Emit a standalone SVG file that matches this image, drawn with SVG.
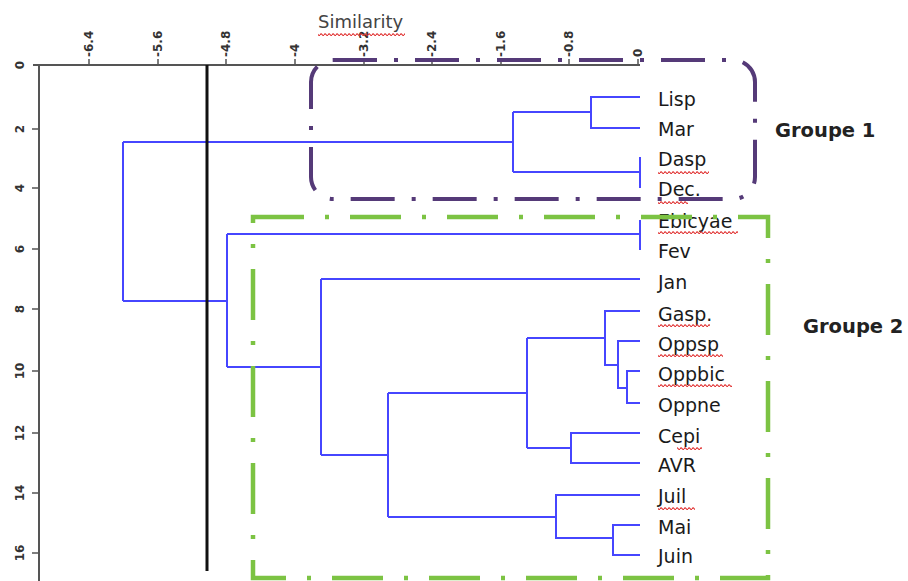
<svg xmlns="http://www.w3.org/2000/svg" width="908" height="581" viewBox="0 0 908 581">
<style>
.axis{stroke:#555;stroke-width:2;fill:none}
.tick{stroke:#555;stroke-width:1.5}
.tl{font-family:"DejaVu Sans",sans-serif;font-size:12px;font-weight:bold;fill:#333}
.leaf{font-family:"DejaVu Sans",sans-serif;font-size:19px;fill:#1a1a1a}
.grp{font-family:"DejaVu Sans",sans-serif;font-size:19.5px;font-weight:bold;fill:#222}
.dendro{stroke:#4646ff;stroke-width:2;fill:none}
.cut{stroke:#111;stroke-width:3}
.box1{fill:none;stroke:#553a78;stroke-width:4;stroke-dasharray:44 17 4 17}
.box2{fill:none;stroke:#7cc343;stroke-width:4.5;stroke-dasharray:51 21 4 21}
.wavy{fill:url(#wavy)}
</style>
<defs>
<pattern id="wavy" patternUnits="userSpaceOnUse" width="4" height="3">
<path d="M0 2 Q1 0 2 1.5 T4 2" fill="none" stroke="#e03030" stroke-width="1.2"/>
</pattern>
</defs>
<rect width="908" height="581" fill="#fff"/>

<g id="axes">
<path class="axis" d="M33 65 H640 M39 65 V581"/>
<g class="tick">
<path d="M89 59 V65 M158 59 V65 M226 59 V65 M295 59 V65 M364 59 V65 M432 59 V65 M501 59 V65 M569 59 V65 M638 59 V65"/>
<path d="M32 129 H39 M32 188 H39 M32 249 H39 M32 309 H39 M32 371 H39 M32 433 H39 M32 493 H39 M32 553 H39"/>
</g>
<g class="tl">
<text transform="translate(93 57) rotate(-90)">-6.4</text>
<text transform="translate(162 57) rotate(-90)">-5.6</text>
<text transform="translate(230 57) rotate(-90)">-4.8</text>
<text transform="translate(299 57) rotate(-90)">-4</text>
<text transform="translate(368 57) rotate(-90)">-3.2</text>
<text transform="translate(436 57) rotate(-90)">-2.4</text>
<text transform="translate(505 57) rotate(-90)">-1.6</text>
<text transform="translate(573 57) rotate(-90)">-0.8</text>
<text transform="translate(642 57) rotate(-90)">0</text>
</g>
<g class="tl" text-anchor="middle">
<text transform="translate(24 65) rotate(-90)">0</text>
<text transform="translate(24 129) rotate(-90)">2</text>
<text transform="translate(24 188) rotate(-90)">4</text>
<text transform="translate(24 249) rotate(-90)">6</text>
<text transform="translate(24 309) rotate(-90)">8</text>
<text transform="translate(24 371) rotate(-90)">10</text>
<text transform="translate(24 433) rotate(-90)">12</text>
<text transform="translate(24 493) rotate(-90)">14</text>
<text transform="translate(24 553) rotate(-90)">16</text>
</g>
<text x="318" y="28" font-family="DejaVu Sans, sans-serif" font-size="18" fill="#444">Similarity</text>
<rect class="wavy" x="318" y="33" width="87" height="3"/>
</g>

<g id="connectors">
<path class="dendro" d="M640 97 H591 V128 H640 M591 112 H513 M640 157 V188 M640 172 H513 M513 112 V172 M513 142 H123
M640 220 V250 M640 234 H227 M640 279 H321
M640 311 H605 V365 H618 M640 341 H618 V388 H627 M640 371 H627 V403 H640 M605 338 H527
M640 433 H571 V463 H640 M571 448 H527 M527 338 V448 M527 393 H388
M640 495 H556 V538 H613 M640 525 H613 V555 H640 M556 517 H388
M388 393 V517 M388 455 H321 M321 279 V455 M321 367 H227 M227 234 V367 M227 301 H123 M123 142 V301"/>
<path class="cut" d="M207 65 V571"/>
</g>

<g id="leaves" class="leaf">
<g id="n-lisp"><text x="658" y="106">Lisp</text></g>
<g id="n-mar"><text x="658" y="136">Mar</text></g>
<g id="n-dasp"><text x="658" y="166">Dasp</text><rect class="wavy" x="658" y="171" width="51" height="3"/></g>
<g id="n-dec"><text x="658" y="196">Dec.</text><rect class="wavy" x="658" y="201" width="30" height="3"/></g>
<g id="n-ebicyae"><text x="658" y="228">Ebicyae</text><rect class="wavy" x="658" y="231" width="80" height="3"/></g>
<g id="n-fev"><text x="658" y="258">Fev</text></g>
<g id="n-jan"><text x="658" y="289">Jan</text></g>
<g id="n-gasp"><text x="658" y="321">Gasp.</text><rect class="wavy" x="658" y="324" width="52" height="3"/></g>
<g id="n-oppsp"><text x="658" y="351">Oppsp</text><rect class="wavy" x="658" y="354" width="65" height="3"/></g>
<g id="n-oppbic"><text x="658" y="381">Oppbic</text><rect class="wavy" x="658" y="384" width="74" height="3"/></g>
<g id="n-oppne"><text x="658" y="412">Oppne</text></g>
<g id="n-cepi"><text x="658" y="443">Cepi</text><rect class="wavy" x="677" y="447" width="25" height="3"/></g>
<g id="n-avr"><text x="658" y="472">AVR</text></g>
<g id="n-juil"><text x="658" y="503">Juil</text><rect class="wavy" x="658" y="507" width="37" height="3"/></g>
<g id="n-mai"><text x="658" y="534">Mai</text></g>
<g id="n-juin"><text x="658" y="563">Juin</text></g>
</g>

<g id="groupe1">
<rect class="box1" x="311" y="60" width="444" height="139" rx="22"/>
<text class="grp" x="775" y="137">Groupe 1</text>
</g>
<g id="groupe2">
<rect class="box2" x="253" y="217" width="515" height="361"/>
<text class="grp" x="803" y="333">Groupe 2</text>
</g>
</svg>
